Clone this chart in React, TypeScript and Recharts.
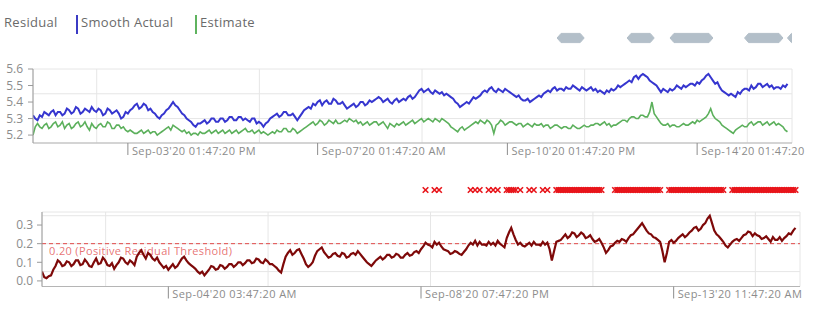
import React from 'react';
import {
  ComposedChart, LineChart, Line, XAxis, YAxis, CartesianGrid, ReferenceLine, ReferenceArea, Scatter,
} from 'recharts';

// ---- data (hourly samples starting Sep-01'20 07:47:20 PM) ----
const STEP_HOURS = 1;
const START_MS = Date.UTC(2020, 8, 1, 19, 47, 20);
const DOMAIN_HOURS = 336;

const smoothActual = [
  5.32, 5.30, 5.29, 5.32, 5.31, 5.34, 5.33, 5.32, 5.34, 5.35, 5.32, 5.34, 5.34, 5.32, 5.33, 5.36,
  5.35, 5.33, 5.34, 5.37, 5.36, 5.33, 5.34, 5.36, 5.35, 5.34, 5.37, 5.35, 5.34, 5.36, 5.35, 5.32,
  5.33, 5.36, 5.35, 5.33, 5.34, 5.35, 5.33, 5.30, 5.31, 5.34, 5.33, 5.35, 5.36, 5.38, 5.39, 5.36,
  5.37, 5.39, 5.38, 5.35, 5.36, 5.34, 5.33, 5.31, 5.30, 5.32, 5.33, 5.35, 5.36, 5.38, 5.40, 5.38,
  5.37, 5.35, 5.33, 5.32, 5.30, 5.29, 5.28, 5.26, 5.25, 5.27, 5.27, 5.28, 5.29, 5.27, 5.28, 5.30,
  5.30, 5.28, 5.28, 5.30, 5.30, 5.28, 5.29, 5.31, 5.31, 5.29, 5.29, 5.31, 5.31, 5.29, 5.30, 5.29,
  5.28, 5.30, 5.30, 5.27, 5.28, 5.27, 5.25, 5.27, 5.28, 5.30, 5.31, 5.32, 5.33, 5.31, 5.32, 5.34,
  5.34, 5.32, 5.32, 5.33, 5.31, 5.29, 5.31, 5.33, 5.35, 5.36, 5.37, 5.36, 5.39, 5.38, 5.40, 5.41,
  5.38, 5.40, 5.41, 5.39, 5.39, 5.42, 5.41, 5.39, 5.39, 5.40, 5.38, 5.36, 5.37, 5.38, 5.39, 5.37,
  5.38, 5.40, 5.40, 5.38, 5.39, 5.41, 5.40, 5.41, 5.42, 5.43, 5.42, 5.40, 5.41, 5.42, 5.40, 5.39,
  5.41, 5.42, 5.40, 5.41, 5.42, 5.41, 5.43, 5.44, 5.42, 5.43, 5.45, 5.47, 5.48, 5.46, 5.47, 5.48,
  5.46, 5.45, 5.47, 5.46, 5.45, 5.46, 5.44, 5.45, 5.44, 5.43, 5.42, 5.40, 5.39, 5.37, 5.38, 5.39,
  5.40, 5.39, 5.41, 5.43, 5.42, 5.43, 5.44, 5.46, 5.47, 5.46, 5.48, 5.49, 5.47, 5.46, 5.48, 5.47,
  5.46, 5.48, 5.47, 5.46, 5.45, 5.44, 5.43, 5.44, 5.42, 5.41, 5.41, 5.42, 5.40, 5.41, 5.42, 5.43,
  5.44, 5.43, 5.45, 5.46, 5.47, 5.46, 5.48, 5.49, 5.47, 5.48, 5.48, 5.47, 5.49, 5.48, 5.48, 5.50,
  5.49, 5.48, 5.47, 5.49, 5.48, 5.47, 5.48, 5.49, 5.47, 5.48, 5.46, 5.47, 5.46, 5.45, 5.47, 5.46,
  5.48, 5.47, 5.48, 5.50, 5.49, 5.50, 5.51, 5.52, 5.53, 5.52, 5.55, 5.56, 5.54, 5.56, 5.57, 5.56,
  5.55, 5.53, 5.52, 5.51, 5.50, 5.48, 5.46, 5.48, 5.47, 5.46, 5.48, 5.47, 5.48, 5.50, 5.49, 5.48,
  5.50, 5.49, 5.50, 5.51, 5.51, 5.50, 5.52, 5.51, 5.53, 5.54, 5.56, 5.57, 5.55, 5.53, 5.51, 5.52,
  5.49, 5.47, 5.46, 5.45, 5.44, 5.45, 5.44, 5.43, 5.46, 5.45, 5.47, 5.48, 5.48, 5.47, 5.50, 5.48,
  5.49, 5.51, 5.51, 5.49, 5.50, 5.51, 5.49, 5.50, 5.48, 5.49, 5.49, 5.48, 5.50, 5.49, 5.51,
];

const estimate = [
  5.20, 5.25, 5.27, 5.25, 5.24, 5.26, 5.27, 5.24, 5.25, 5.27, 5.28, 5.25, 5.26, 5.28, 5.24, 5.26,
  5.27, 5.24, 5.25, 5.27, 5.28, 5.25, 5.26, 5.28, 5.25, 5.23, 5.27, 5.25, 5.24, 5.26, 5.27, 5.25,
  5.25, 5.28, 5.27, 5.24, 5.24, 5.26, 5.26, 5.24, 5.25, 5.23, 5.22, 5.23, 5.22, 5.21, 5.21, 5.22,
  5.23, 5.21, 5.22, 5.23, 5.21, 5.22, 5.22, 5.20, 5.21, 5.22, 5.23, 5.24, 5.25, 5.23, 5.26, 5.25,
  5.24, 5.23, 5.22, 5.23, 5.21, 5.22, 5.20, 5.21, 5.21, 5.20, 5.22, 5.21, 5.21, 5.22, 5.23, 5.21,
  5.22, 5.23, 5.21, 5.22, 5.23, 5.21, 5.22, 5.23, 5.21, 5.22, 5.23, 5.21, 5.22, 5.23, 5.24, 5.22,
  5.22, 5.23, 5.21, 5.22, 5.23, 5.21, 5.22, 5.21, 5.20, 5.21, 5.22, 5.21, 5.23, 5.22, 5.22, 5.24,
  5.24, 5.22, 5.22, 5.24, 5.23, 5.21, 5.22, 5.23, 5.24, 5.25, 5.26, 5.27, 5.28, 5.26, 5.27, 5.29,
  5.28, 5.26, 5.27, 5.29, 5.28, 5.27, 5.29, 5.27, 5.27, 5.28, 5.29, 5.28, 5.30, 5.29, 5.28, 5.29,
  5.27, 5.28, 5.26, 5.27, 5.28, 5.26, 5.27, 5.28, 5.28, 5.26, 5.27, 5.28, 5.26, 5.24, 5.27, 5.26,
  5.25, 5.27, 5.26, 5.27, 5.28, 5.26, 5.27, 5.28, 5.29, 5.27, 5.28, 5.29, 5.30, 5.28, 5.29, 5.30,
  5.29, 5.28, 5.30, 5.29, 5.28, 5.30, 5.29, 5.28, 5.27, 5.25, 5.24, 5.23, 5.22, 5.24, 5.25, 5.23,
  5.24, 5.25, 5.26, 5.27, 5.28, 5.27, 5.29, 5.28, 5.27, 5.29, 5.28, 5.26, 5.21, 5.26, 5.27, 5.29,
  5.28, 5.26, 5.27, 5.28, 5.28, 5.27, 5.26, 5.27, 5.27, 5.25, 5.26, 5.27, 5.26, 5.25, 5.27, 5.26,
  5.26, 5.27, 5.25, 5.26, 5.26, 5.24, 5.25, 5.26, 5.26, 5.25, 5.24, 5.25, 5.25, 5.24, 5.24, 5.26,
  5.25, 5.24, 5.24, 5.25, 5.26, 5.25, 5.25, 5.26, 5.26, 5.27, 5.27, 5.26, 5.27, 5.28, 5.26, 5.27,
  5.25, 5.26, 5.26, 5.27, 5.28, 5.29, 5.29, 5.28, 5.30, 5.31, 5.31, 5.30, 5.30, 5.32, 5.32, 5.31,
  5.31, 5.34, 5.40, 5.33, 5.31, 5.29, 5.27, 5.26, 5.26, 5.27, 5.25, 5.26, 5.26, 5.25, 5.25, 5.26,
  5.27, 5.26, 5.26, 5.27, 5.28, 5.27, 5.29, 5.28, 5.29, 5.30, 5.31, 5.33, 5.36, 5.32, 5.30, 5.29,
  5.28, 5.26, 5.25, 5.24, 5.23, 5.22, 5.21, 5.23, 5.24, 5.25, 5.26, 5.25, 5.25, 5.27, 5.28, 5.26,
  5.27, 5.28, 5.28, 5.26, 5.27, 5.28, 5.26, 5.27, 5.28, 5.26, 5.27, 5.26, 5.25, 5.23, 5.22,
];

const residual = [
  0.05, 0.02, 0.015, 0.025, 0.03, 0.06, 0.08, 0.11, 0.10, 0.08, 0.085, 0.105, 0.10, 0.08, 0.09, 0.11,
  0.11, 0.085, 0.09, 0.115, 0.10, 0.08, 0.075, 0.10, 0.12, 0.09, 0.095, 0.125, 0.11, 0.085, 0.08, 0.095,
  0.065, 0.085, 0.10, 0.125, 0.12, 0.10, 0.09, 0.11, 0.10, 0.085, 0.13, 0.15, 0.165, 0.14, 0.12, 0.15,
  0.14, 0.12, 0.11, 0.125, 0.10, 0.085, 0.07, 0.08, 0.06, 0.075, 0.09, 0.07, 0.08, 0.10, 0.12, 0.13,
  0.11, 0.095, 0.085, 0.075, 0.065, 0.05, 0.04, 0.05, 0.03, 0.045, 0.06, 0.08, 0.075, 0.06, 0.065, 0.085,
  0.08, 0.065, 0.075, 0.09, 0.09, 0.075, 0.085, 0.10, 0.10, 0.085, 0.095, 0.11, 0.11, 0.095, 0.10, 0.12,
  0.115, 0.10, 0.095, 0.115, 0.105, 0.09, 0.09, 0.08, 0.07, 0.055, 0.045, 0.09, 0.13, 0.15, 0.165, 0.14,
  0.15, 0.165, 0.17, 0.145, 0.12, 0.09, 0.075, 0.085, 0.10, 0.135, 0.16, 0.17, 0.18, 0.155, 0.14, 0.125,
  0.13, 0.145, 0.15, 0.135, 0.13, 0.15, 0.145, 0.125, 0.13, 0.145, 0.15, 0.14, 0.16, 0.145, 0.13, 0.115,
  0.10, 0.09, 0.08, 0.095, 0.11, 0.12, 0.13, 0.115, 0.125, 0.14, 0.14, 0.125, 0.13, 0.145, 0.14, 0.125,
  0.125, 0.14, 0.15, 0.135, 0.14, 0.155, 0.16, 0.15, 0.17, 0.185, 0.205, 0.195, 0.19, 0.18, 0.21, 0.195,
  0.205, 0.185, 0.17, 0.165, 0.16, 0.145, 0.15, 0.16, 0.155, 0.145, 0.14, 0.155, 0.17, 0.19, 0.205, 0.195,
  0.215, 0.19, 0.21, 0.195, 0.195, 0.19, 0.21, 0.195, 0.205, 0.19, 0.215, 0.20, 0.19, 0.18, 0.23, 0.26,
  0.285, 0.25, 0.22, 0.195, 0.205, 0.19, 0.185, 0.195, 0.205, 0.19, 0.21, 0.195, 0.195, 0.19, 0.21, 0.195,
  0.205, 0.17, 0.11, 0.16, 0.21, 0.215, 0.22, 0.235, 0.25, 0.23, 0.24, 0.26, 0.255, 0.235, 0.245, 0.26,
  0.25, 0.23, 0.235, 0.245, 0.225, 0.21, 0.215, 0.225, 0.205, 0.18, 0.15, 0.165, 0.185, 0.19, 0.205, 0.215,
  0.21, 0.225, 0.22, 0.21, 0.23, 0.245, 0.25, 0.265, 0.28, 0.295, 0.31, 0.29, 0.27, 0.255, 0.25, 0.235,
  0.23, 0.22, 0.21, 0.16, 0.10, 0.15, 0.21, 0.22, 0.205, 0.215, 0.23, 0.24, 0.25, 0.235, 0.245, 0.26,
  0.27, 0.285, 0.29, 0.27, 0.28, 0.30, 0.31, 0.335, 0.35, 0.31, 0.27, 0.25, 0.24, 0.225, 0.21, 0.19,
  0.18, 0.195, 0.21, 0.22, 0.225, 0.215, 0.23, 0.245, 0.25, 0.265, 0.26, 0.24, 0.255, 0.245, 0.24, 0.225,
  0.23, 0.24, 0.225, 0.21, 0.235, 0.22, 0.22, 0.235, 0.215, 0.23, 0.24, 0.255, 0.25, 0.27, 0.285,
];

const RESIDUAL_THRESHOLD = 0.2;
const MIN_SOLID_RUN = 12;

// gray event bands shown above the top chart (hours from start)
const eventStarts = [232, 263, 282, 315, 334];
const eventEnds = [244, 275, 301, 332, 360];

// tick positions (hours from start)
const topTickHours = [42, 126, 210, 294];
const bottomTickHours = [56, 168, 280];
const topYTicks = [5.2, 5.3, 5.4, 5.5, 5.6];
const topYGrid = [5.2, 5.25, 5.3, 5.35, 5.4, 5.45, 5.5, 5.55, 5.6];
const bottomYTicks = [0.0, 0.1, 0.2, 0.3];
const bottomYGrid = [0.0, 0.05, 0.1, 0.15, 0.2, 0.25, 0.3, 0.35];
const FIRST_MIDNIGHT = 4 + 12 / 60 + 40 / 3600;
const gridHours = Array.from({ length: 14 }, (_, k) => FIRST_MIDNIGHT + 24 * k);

// ---- derived tables ----
const topRows = smoothActual.map((v, i) => ({ h: i * STEP_HOURS, actual: v, estimate: estimate[i] }));
const bottomRows = residual.map((v, i) => ({ h: i * STEP_HOURS, residual: v }));
const flagPoints = residual
  .map((v, i) => ({ h: i * STEP_HOURS, flag: 0.5, over: v > RESIDUAL_THRESHOLD }))
  .filter((r) => r.over);
const flagRuns: { s: number; e: number }[] = (() => {
  const runs: { s: number; e: number; n: number }[] = [];
  residual.forEach((v, i) => {
    if (v > RESIDUAL_THRESHOLD) {
      const last = runs[runs.length - 1];
      if (last && last.e === (i - 1) * STEP_HOURS) { last.e = i * STEP_HOURS; last.n += 1; }
      else runs.push({ s: i * STEP_HOURS, e: i * STEP_HOURS, n: 1 });
    }
  });
  return runs.filter((r) => r.n >= MIN_SOLID_RUN);
})();
const eventRows = eventStarts.map((s, i) => ({ s, e: eventEnds[i] }));

const FONT = "'Open Sans', 'DejaVu Sans', sans-serif";
const MONTHS = ['Jan', 'Feb', 'Mar', 'Apr', 'May', 'Jun', 'Jul', 'Aug', 'Sep', 'Oct', 'Nov', 'Dec'];
const p2 = (n: number) => String(n).padStart(2, '0');
const fmtTime = (h: number) => {
  const d = new Date(START_MS + h * 3600 * 1000);
  const hr = d.getUTCHours();
  const h12 = hr % 12 === 0 ? 12 : hr % 12;
  return `${MONTHS[d.getUTCMonth()]}-${p2(d.getUTCDate())}'${String(d.getUTCFullYear()).slice(2)} ${p2(h12)}:${p2(d.getUTCMinutes())}:${p2(d.getUTCSeconds())} ${hr < 12 ? 'AM' : 'PM'}`;
};

const XTick = (props: any) => {
  const { x, y, payload } = props;
  return (
    <g>
      <line x1={x} y1={y} x2={x} y2={y + 12} stroke="#8c8c8c" strokeWidth={1} />
      <text x={x + 4} y={y + 11.5} fontSize={11} letterSpacing={0.4} fill="#8c8c8c" fontFamily={FONT} textAnchor="start">
        {fmtTime(payload.value)}
      </text>
    </g>
  );
};

const Cross = (props: any) => {
  const { cx, cy } = props;
  const r = 2.8;
  return (
    <path
      d={`M${cx - r},${cy - r}L${cx + r},${cy + r}M${cx - r},${cy + r}L${cx + r},${cy - r}`}
      stroke="#e8151b"
      strokeWidth={1.6}
      fill="none"
    />
  );
};

const EventShape = (props: any) => {
  const { x, y, width, height } = props;
  const cy = y + height / 2;
  const t = Math.min(4, width / 2);
  const pts = [
    [x, cy], [x + t, y], [x + width - t, y], [x + width, cy], [x + width - t, y + height], [x + t, y + height],
  ].map((p) => p.join(',')).join(' ');
  return <polygon points={pts} fill="#b3bfc9" stroke="#b3bfc9" strokeWidth={1} strokeLinejoin="round" />;
};

const ThresholdLabel = (props: any) => {
  const vb = props.viewBox || {};
  return (
    <text x={vb.x + 7} y={vb.y + 11.5} fontSize={11} letterSpacing={0.35} fill="#e35a5a" fillOpacity={0.85} fontFamily={FONT}>
      0.20 (Positive Residual Threshold)
    </text>
  );
};

const yTickStyle = { fontSize: 12, fill: '#8c8c8c', fontFamily: FONT };
const legendText = { position: 'absolute' as const, top: 13, fontSize: 13, letterSpacing: 0.3, color: '#6a6a6a', whiteSpace: 'nowrap' as const };

export default function App() {
  return (
    <div style={{ position: 'absolute', left: 0, top: 0, width: 820, height: 309, background: '#fff', fontFamily: FONT, overflow: 'hidden' }}>
      {/* legend */}
      <div style={{ ...legendText, left: 4 }}>Residual</div>
      <div style={{ position: 'absolute', left: 76, top: 15, width: 2, height: 19, background: '#3b3bc4' }} />
      <div style={{ ...legendText, left: 81 }}>Smooth Actual</div>
      <div style={{ position: 'absolute', left: 195, top: 15, width: 2, height: 19, background: '#5fb35f' }} />
      <div style={{ ...legendText, left: 200 }}>Estimate</div>

      {/* event strip */}
      <div style={{ position: 'absolute', left: 0, top: 28, width: 792, height: 20, overflow: 'hidden' }}>
        <ComposedChart width={820} height={20} data={topRows} margin={{ top: 0, right: 28, bottom: 0, left: 33 }}>
          <XAxis type="number" dataKey="h" domain={[0, DOMAIN_HOURS]} allowDataOverflow hide />
          <YAxis type="number" domain={[0, 1]} allowDataOverflow hide />
          {eventRows.map((r, i) => (
            <ReferenceArea key={i} x1={r.s} x2={r.e} y1={0.27} y2={0.73} ifOverflow="visible" shape={<EventShape />} />
          ))}
        </ComposedChart>
      </div>

      {/* top chart */}
      <div style={{ position: 'absolute', left: 0, top: 60, width: 806, height: 110, overflow: 'hidden' }}>
        <LineChart width={806} height={110} data={topRows} margin={{ top: 9, right: 14, bottom: 1, left: 0 }}>
          <XAxis xAxisId="g" type="number" dataKey="h" domain={[0, DOMAIN_HOURS]} ticks={gridHours} allowDataOverflow hide />
          <YAxis yAxisId="g" type="number" domain={[5.152, 5.6]} ticks={topYGrid} allowDataOverflow hide />
          <CartesianGrid xAxisId="g" yAxisId="g" stroke="#e6e6e6" />
          <XAxis
            type="number" dataKey="h" domain={[0, DOMAIN_HOURS]} ticks={topTickHours} interval={0} allowDataOverflow
            tick={<XTick />} tickLine={false} tickSize={0} tickMargin={0} height={26} axisLine={{ stroke: '#b5b5b5' }}
          />
          <YAxis
            type="number" domain={[5.152, 5.6]} ticks={topYTicks} interval={0} allowDataOverflow width={33}
            tick={yTickStyle} tickFormatter={(v: number) => v.toFixed(1)} tickSize={5} tickMargin={5}
            axisLine={{ stroke: '#9a9a9a' }} tickLine={{ stroke: '#9a9a9a' }}
          />
          <Line type="linear" dataKey="estimate" stroke="#5cb05c" strokeWidth={1.6} dot={false} isAnimationActive={false} />
          <Line type="linear" dataKey="actual" stroke="#3636cf" strokeWidth={2} dot={false} isAnimationActive={false} />
        </LineChart>
      </div>

      {/* anomaly flag strip */}
      <div style={{ position: 'absolute', left: 0, top: 180, width: 820, height: 20 }}>
        <ComposedChart width={820} height={20} data={flagPoints} margin={{ top: 0, right: 20, bottom: 0, left: 42 }}>
          <XAxis type="number" dataKey="h" domain={[0, DOMAIN_HOURS]} allowDataOverflow hide />
          <YAxis type="number" domain={[0, 1]} allowDataOverflow hide />
          {flagRuns.map((r, i) => (
            <ReferenceArea key={i} x1={r.s} x2={r.e} y1={0.36} y2={0.64} fill="#e8151b" fillOpacity={1} stroke="none" ifOverflow="visible" />
          ))}
          <Scatter data={flagPoints} dataKey="flag" shape={<Cross />} isAnimationActive={false} />
        </ComposedChart>
      </div>

      {/* bottom chart */}
      <div style={{ position: 'absolute', left: 0, top: 200, width: 820, height: 109 }}>
        <LineChart width={820} height={109} data={bottomRows} margin={{ top: 12, right: 20, bottom: 0, left: 0 }}>
          <XAxis xAxisId="g" type="number" dataKey="h" domain={[0, DOMAIN_HOURS]} ticks={gridHours} allowDataOverflow hide />
          <YAxis yAxisId="g" type="number" domain={[-0.03, 0.37]} ticks={bottomYGrid} allowDataOverflow hide />
          <CartesianGrid xAxisId="g" yAxisId="g" stroke="#e6e6e6" />
          <XAxis
            type="number" dataKey="h" domain={[0, DOMAIN_HOURS]} ticks={bottomTickHours} interval={0} allowDataOverflow
            tick={<XTick />} tickLine={false} tickSize={0} tickMargin={0} height={22.5} axisLine={{ stroke: '#b5b5b5' }}
          />
          <YAxis
            type="number" domain={[-0.03, 0.37]} ticks={bottomYTicks} interval={0} allowDataOverflow width={42}
            tick={yTickStyle} tickFormatter={(v: number) => v.toFixed(1)} tickSize={5} tickMargin={4}
            axisLine={{ stroke: '#9a9a9a' }} tickLine={{ stroke: '#9a9a9a' }}
          />
          <ReferenceLine y={RESIDUAL_THRESHOLD} stroke="#e24a4a" strokeDasharray="4 3" strokeWidth={1} label={<ThresholdLabel />} />
          <Line type="linear" dataKey="residual" stroke="#7e0909" strokeWidth={2.2} dot={false} isAnimationActive={false} />
        </LineChart>
      </div>
    </div>
  );
}
